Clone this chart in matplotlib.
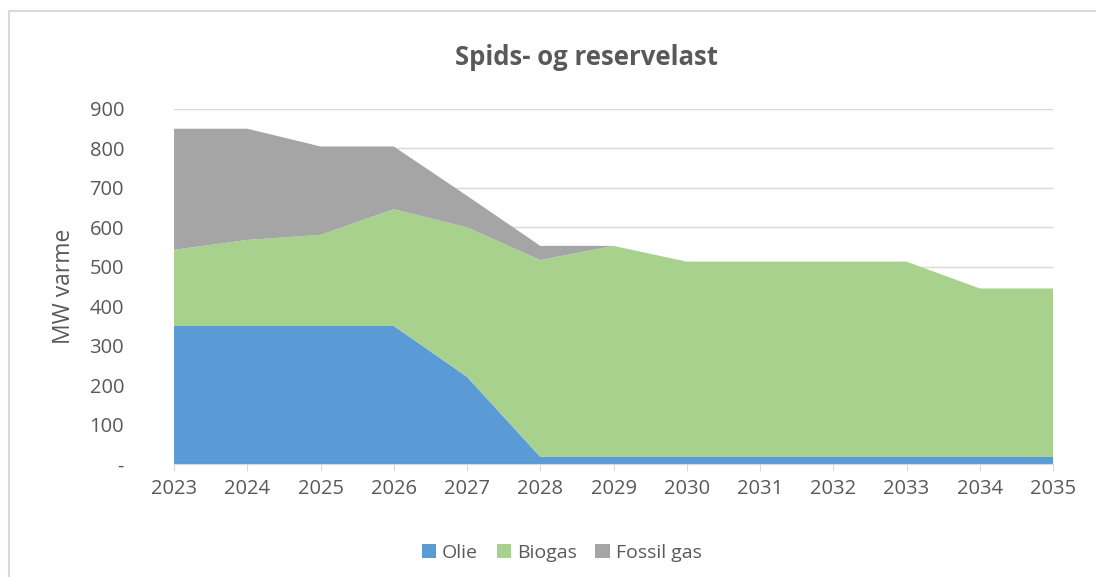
import matplotlib
matplotlib.use("Agg")
import matplotlib.pyplot as plt
from matplotlib.lines import Line2D

plt.rcParams['font.family'] = ['Open Sans', 'DejaVu Sans']

years = [2023, 2024, 2025, 2026, 2027, 2028, 2029, 2030, 2031, 2032, 2033, 2034, 2035]
olie = [350, 350, 350, 350, 221, 18, 18, 18, 18, 18, 18, 18, 18]
biogas = [193, 218, 231, 296, 379, 499, 535, 495, 495, 495, 495, 427, 427]
fossil_gas = [307, 282, 224, 159, 80, 36, 0, 0, 0, 0, 0, 0, 0]

yticks = [0, 100, 200, 300, 400, 500, 600, 700, 800, 900]
ytick_labels = ['-', '100', '200', '300', '400', '500', '600', '700', '800', '900']

txt = '#595959'
fig = plt.figure(figsize=(10.96, 5.77), dpi=100)
# chart area border (top and left edges visible)
fig.lines.append(Line2D([9 / 1096, 1.0], [1 - 11 / 577] * 2, transform=fig.transFigure,
                        color='#d9d9d9', linewidth=1.5))
fig.lines.append(Line2D([9 / 1096] * 2, [0.0, 1 - 11 / 577], transform=fig.transFigure,
                        color='#d9d9d9', linewidth=1.5))

ax = fig.add_axes([0.1588, 0.1958, 0.8020, 0.6153])

ax.stackplot(years, olie, biogas, fossil_gas,
             colors=['#5B9BD5', '#A9D18E', '#A5A5A5'],
             labels=['Olie', 'Biogas', 'Fossil gas'], zorder=2)

ax.set_xlim(2023, 2035)
ax.set_ylim(0, 900)
ax.set_xticks(years)
ax.set_xticklabels([str(y) for y in years])
ax.set_yticks(yticks)
ax.set_yticklabels(ytick_labels)
ax.grid(axis='y', color='#d9d9d9', linewidth=1, zorder=0)
ax.set_axisbelow(True)
for s in ['top', 'right', 'left']:
    ax.spines[s].set_visible(False)
ax.spines['bottom'].set_color('#d9d9d9')
ax.tick_params(axis='x', colors='#d9d9d9', labelcolor=txt, labelsize=14.5, length=5, pad=6)
ax.tick_params(axis='y', length=0, labelcolor=txt, labelsize=14.5, pad=36)
ax.set_ylabel('MW varme', color=txt, fontsize=16.5, labelpad=10)

fig.text(0.535, 0.9, 'Spids- og reservelast', ha='center', va='center',
         fontsize=18.5, fontweight='bold', color=txt)

ax.legend(loc='center', bbox_to_anchor=(0.441, -0.25), ncol=3, frameon=False,
          fontsize=14, labelcolor=txt, handlelength=0.75, handleheight=0.75,
          handletextpad=0.3, columnspacing=0.95)

fig.savefig('out.png', dpi=100)
